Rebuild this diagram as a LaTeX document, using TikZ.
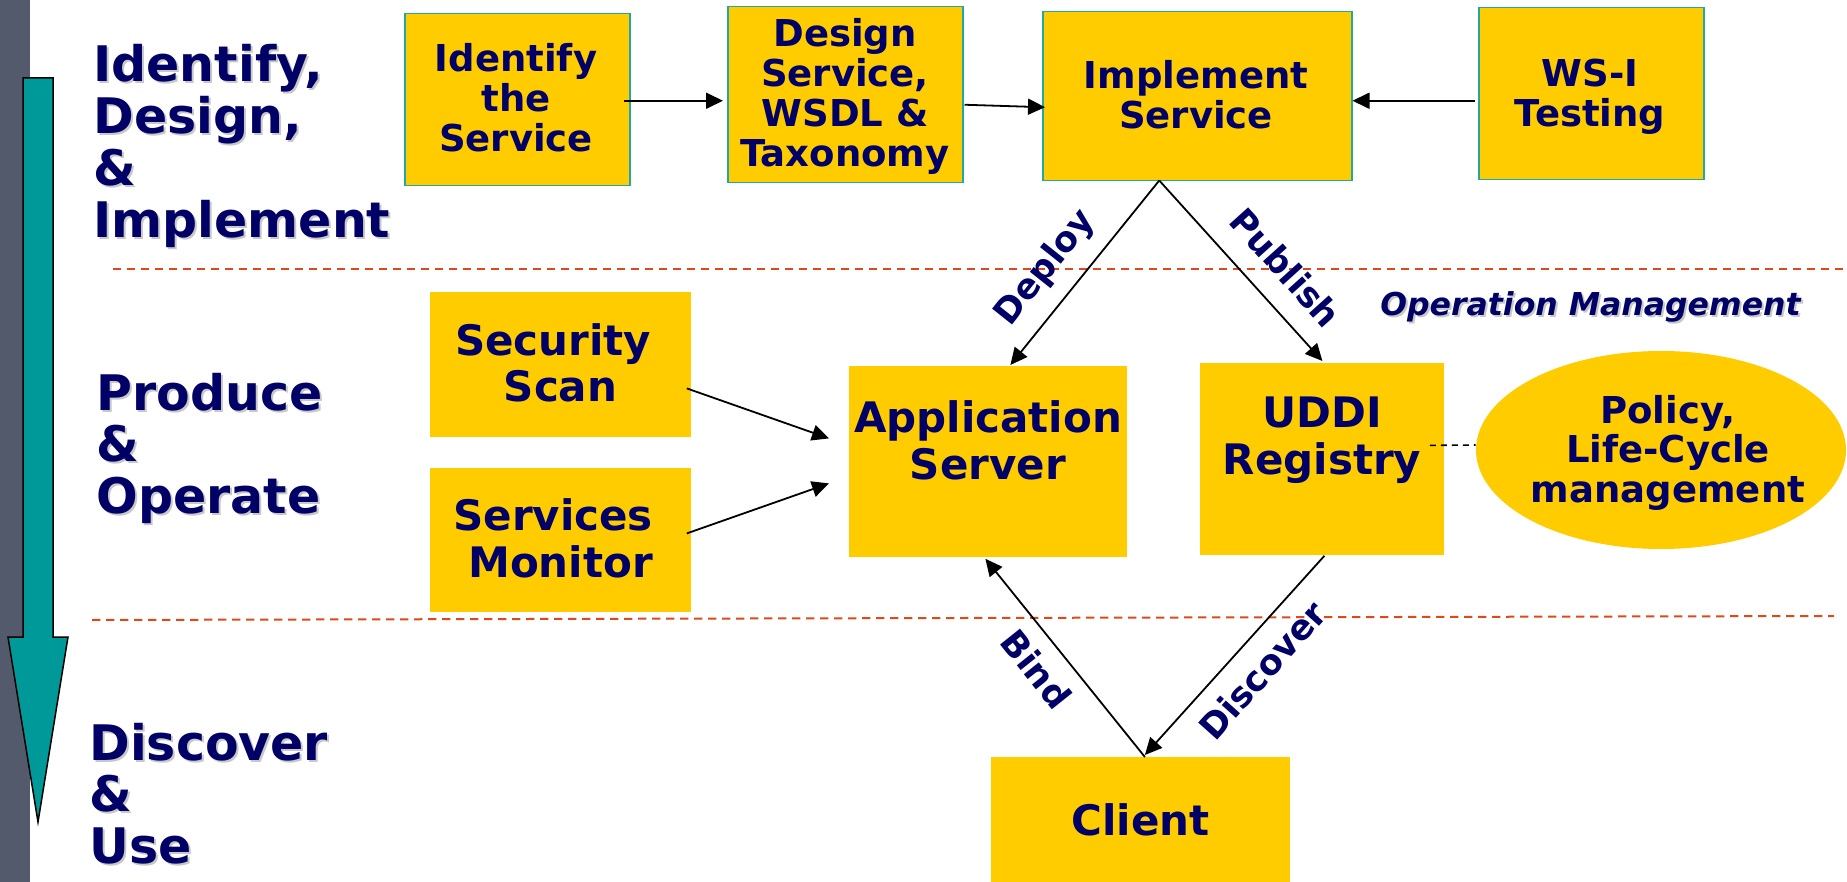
\documentclass[tikz,border=0pt]{standalone}
\usepackage{fontspec}
\setmainfont{DejaVu Sans}
\usetikzlibrary{arrows.meta,calc,shapes.geometric}
\definecolor{boxy}{HTML}{FFCC00}
\definecolor{navy}{HTML}{000066}
\definecolor{tealb}{HTML}{20A8A8}
\definecolor{tealarrow}{HTML}{009999}
\definecolor{barg}{HTML}{525A6B}
\definecolor{dashr}{HTML}{DD4A1A}
\definecolor{shadowc}{HTML}{C8C8C8}
\newcommand\shd[1]{\rlap{\kern1pt\raisebox{-1pt}{\color{shadowc}#1}}#1}
\newcommand\ctrlines[1]{\vtop{\lineskiplimit=-100pt\lineskip=0pt\halign{\hfil##\hfil\cr#1\crcr}}}
\newcommand\leftlines[1]{\vtop{\lineskiplimit=-100pt\lineskip=0pt\halign{##\hfil\cr#1\crcr}}}
\tikzset{
  ybox/.style={rectangle, fill=boxy, draw=tealb, line width=0.75pt, inner sep=0pt, anchor=north west},
  pbox/.style={rectangle, fill=boxy, draw=none, inner sep=0pt, anchor=north west},
  txt/.style={text=navy, inner sep=0pt, anchor=base},
  sone/.style={font=\fontsize{18.5}{20}\selectfont\bfseries},
  stwo/.style={font=\fontsize{21}{23.5}\selectfont\bfseries},
  sthree/.style={font=\fontsize{24.5}{25.85}\selectfont\bfseries},
  sfour/.style={font=\fontsize{17.5}{20}\selectfont\bfseries},
  conn/.style={draw=black, line width=0.9pt, -{Triangle[length=8.5pt,width=8pt]}},
  phase/.style={draw=dashr, line width=1pt, dash pattern=on 4.2pt off 2.8pt},
  dotconn/.style={draw=black, line width=0.8pt, dash pattern=on 3pt off 2.5pt},
}
\begin{document}
\begin{tikzpicture}[x=0.5pt,y=-0.5pt]
\useasboundingbox (0,0) rectangle (1847,882);
\fill[white] (0,0) rectangle (1847,882);
% left bar and phase arrow
\fill[barg] (0,0) rectangle (30,882);
\filldraw[fill=tealarrow, draw=black, line width=0.75pt]
  (23,78) -- (53,78) -- (53,637) -- (68,637) -- (38,822) -- (8,637) -- (23,637) -- cycle;
% phase separators
\draw[phase] (113,269) -- (1847,269);
\draw[phase] (92,620) -- (1834,616);
% boxes
\node[ybox, minimum width=112.5pt, minimum height=86pt] (ident) at (404,13) {};
\node[ybox, minimum width=117.5pt, minimum height=88pt] (design) at (727,6) {};
\node[ybox, minimum width=154.5pt, minimum height=84.5pt] (impl) at (1042,11) {};
\node[ybox, minimum width=112.5pt, minimum height=86pt] (wsi) at (1478,7) {};
\node[pbox, minimum width=130.5pt, minimum height=72.5pt] (sec) at (430,292) {};
\node[pbox, minimum width=130.5pt, minimum height=72pt] (mon) at (430,468) {};
\node[pbox, minimum width=139pt, minimum height=95.5pt] (app) at (849,366) {};
\node[pbox, minimum width=122pt, minimum height=96pt] (uddi) at (1200,363) {};
\node[pbox, minimum width=149.5pt, minimum height=62.5pt] (client) at (991,757) {};
\node[ellipse, fill=boxy, inner sep=0pt, minimum width=185pt, minimum height=99pt] (ell) at (1661,450) {};
% connectors
\draw[conn] ($(ident.east)+(-7,1)$) -- ($(design.west)+(-4,6)$);
\draw[conn] ($(design.east)+(1,10)$) -- ($(impl.west)+(3,11)$);
\draw[conn] ($(wsi.west)+(-3,7)$) -- ($(impl.east)+(0,4.5)$);
\draw[conn] ($(impl.south)+(-38,-1)$) -- ($(app.north)+(22,-1)$);
\draw[conn] ($(impl.south)+(-38,-1)$) -- ($(uddi.north)+(0,-2)$);
\draw[conn] ($(client.north)+(4,0)$) -- ($(app.south)+(-3,1)$);
\draw[conn] ($(uddi.south)+(2,0)$) -- ($(client.north)+(4,-2)$);
\draw[conn] ($(sec.east)+(-5,23.5)$) -- ($(app.west)+(-20,-23.5)$);
\draw[conn] ($(mon.east)+(-5,-7)$) -- ($(app.west)+(-20,21.5)$);
\draw[dotconn] ($(uddi.east)+(-15,-14)$) -- ($(ell.west)+(0,-5)$);
% box texts
\node[txt, sone] (identT) at (516,72) {\ctrlines{Identify\cr the\cr Service}};
\node[txt, sone] (designT) at (845,46.7) {\ctrlines{Design\cr Service,\cr WSDL \&\cr Taxonomy}};
\node[txt, sone] (implT) at (1196,89) {\ctrlines{Implement\cr Service}};
\node[txt, sone] (wsiT) at (1590,87) {\ctrlines{WS-I\cr Testing}};
\node[txt, stwo] (secT) at (560.5,355) {\ctrlines{Security\ \cr Scan}};
\node[txt, stwo] (monT) at (560.5,530) {\ctrlines{Services\ \cr Monitor}};
\node[txt, stwo] (appT) at (988,432) {\ctrlines{Application\cr Server}};
\node[txt, stwo] (uddiT) at (1322,427) {\ctrlines{UDDI\cr Registry}};
\node[txt, stwo] (clientT) at (1140.5,835) {Client};
\node[txt, font=\fontsize{18.5}{19.75}\selectfont\bfseries] (ellT) at (1668,423) {\ctrlines{Policy,\cr Life-Cycle\cr management}};
% phase labels
\node[txt, sthree, anchor=base west] (ph1) at (93,82) {\leftlines{\shd{Identify,}\cr \shd{Design,}\cr \shd{\&}\cr \shd{Implement}}};
\node[txt, sthree, anchor=base west] (ph2) at (96,410) {\leftlines{\shd{Produce}\cr \shd{\&}\cr \shd{Operate}}};
\node[txt, sthree, anchor=base west] (ph3) at (89,760) {\leftlines{\shd{Discover}\cr \shd{\&}\cr \shd{Use}}};
\node[txt, anchor=base west, font=\fontsize{15.75}{18}\selectfont\bfseries\itshape] (opm) at (1380,315) {\shd{Operation Management}};
% connector labels
\node[txt, sfour, anchor=center, rotate=51.5] (lDeploy) at (1045.7,268.3) {Deploy};
\node[txt, sfour, anchor=center, rotate=-48] (lPublish) at (1285.7,267.5) {Publish};
\node[txt, sfour, anchor=center, rotate=-51.4] (lBind) at (1036.7,669) {Bind};
\node[txt, sfour, anchor=center, rotate=48.2] (lDiscover) at (1262.3,670) {Discover};
\end{tikzpicture}
\end{document}
